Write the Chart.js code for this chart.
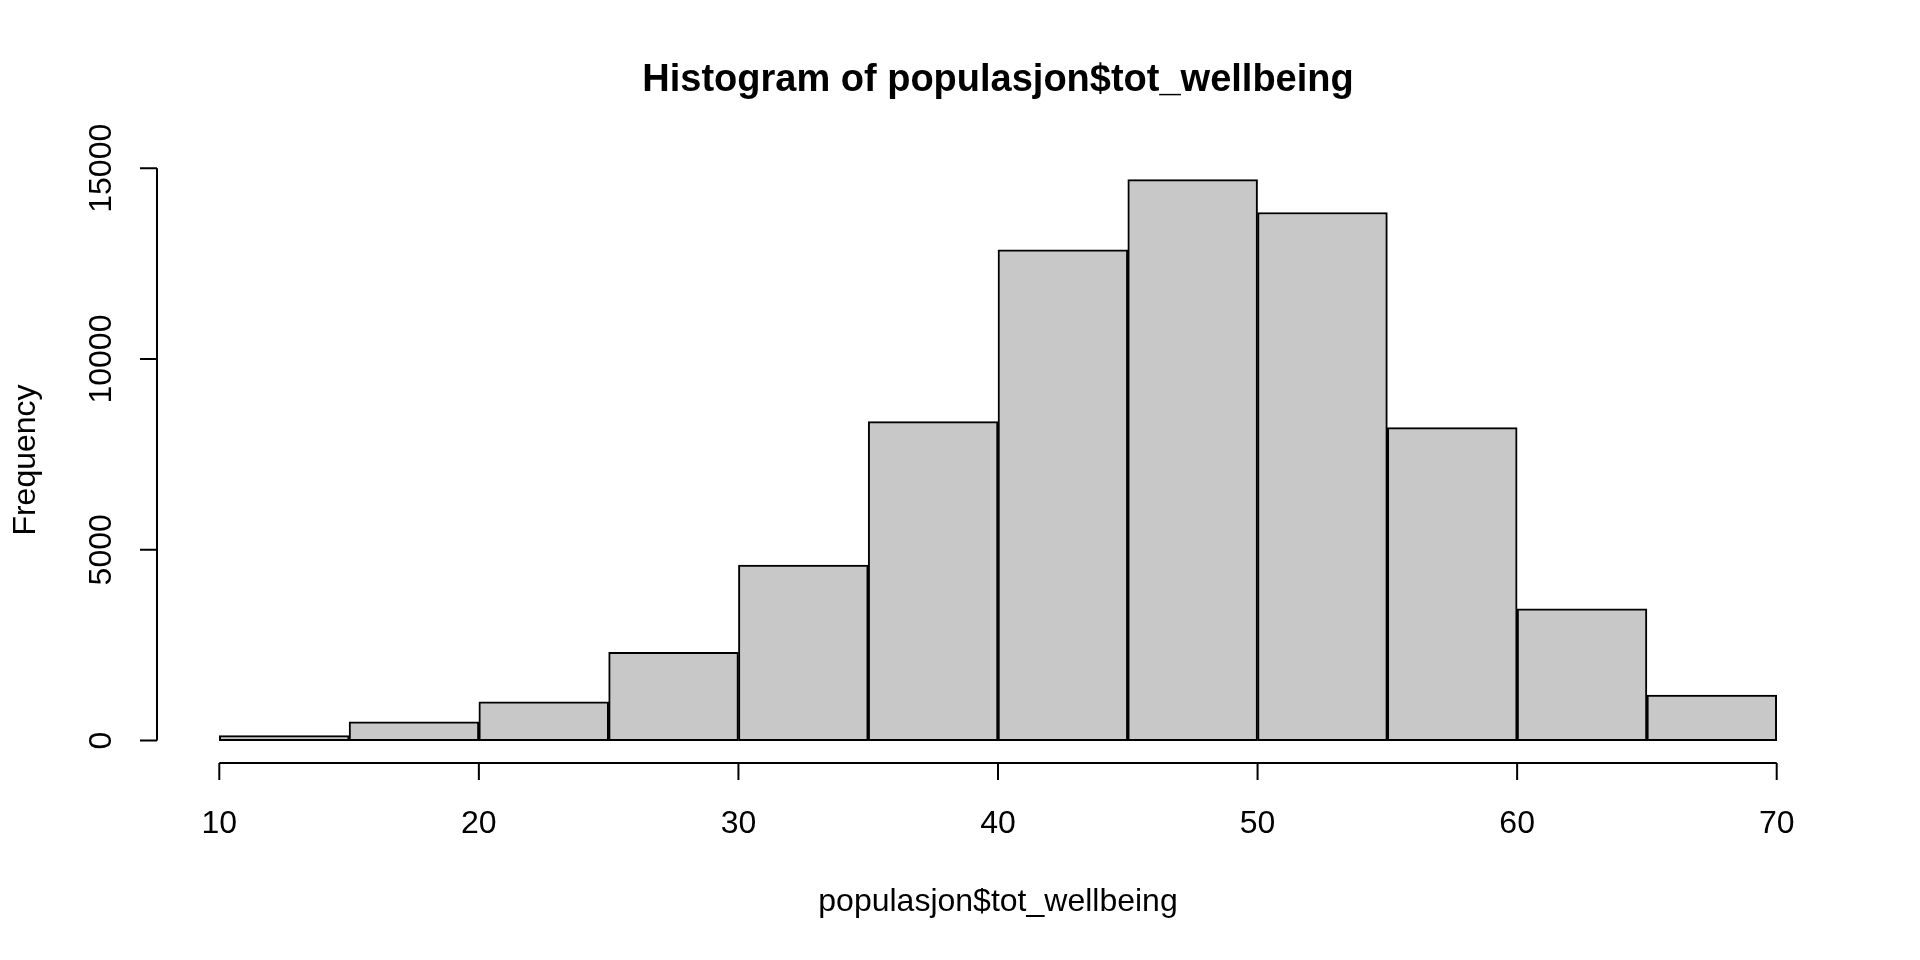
<!DOCTYPE html>
<html>
<head>
<meta charset="utf-8">
<script src="https://cdn.jsdelivr.net/npm/chart.js@4"></script>
<style>
  html, body { margin: 0; padding: 0; background: #fff; }
  #wrap { width: 1920px; height: 960px; position: relative; }
</style>
</head>
<body>
<div id="wrap"><canvas id="histChart" width="1920" height="960"></canvas></div>
<script>
// bin edges and counts
var binStarts = [10, 15, 20, 25, 30, 35, 40, 45, 50, 55, 60, 65];
var binWidth = 5;
var counts = [130, 490, 1015, 2310, 4600, 8360, 12860, 14700, 13840, 8200, 3450, 1195];
var xTicks = [10, 20, 30, 40, 50, 60, 70];
var yTicks = [0, 5000, 10000, 15000];

var titleText = 'Histogram of populasjon$tot_wellbeing';
var xTitle = 'populasjon$tot_wellbeing';
var yTitle = 'Frequency';

var FONT = '"Liberation Sans", Arial, Helvetica, sans-serif';

var histData = binStarts.map(function (s, i) {
    return { x: s + binWidth / 2, y: counts[i] };
});

// R-style axes drawn from the chart's own scales
var rAxes = {
    id: 'rAxes',
    afterDraw: function (chart) {
        var ctx = chart.ctx;
        var xs = chart.scales.x;
        var ys = chart.scales.y;
        var area = chart.chartArea;
        var tickLen = 17;

        ctx.save();
        ctx.strokeStyle = '#000';
        ctx.fillStyle = '#000';
        ctx.lineWidth = 2;

        // x axis
        var xy = area.bottom;
        var x0 = xs.getPixelForValue(xTicks[0]);
        var x1 = xs.getPixelForValue(xTicks[xTicks.length - 1]);
        ctx.beginPath();
        ctx.moveTo(x0, xy);
        ctx.lineTo(x1, xy);
        xTicks.forEach(function (t) {
            var px = xs.getPixelForValue(t);
            ctx.moveTo(px, xy);
            ctx.lineTo(px, xy + tickLen);
        });
        ctx.stroke();

        ctx.font = '32px ' + FONT;
        ctx.textAlign = 'center';
        ctx.textBaseline = 'middle';
        xTicks.forEach(function (t) {
            ctx.fillText(String(t), xs.getPixelForValue(t), 824);
        });
        ctx.fillText(xTitle, (area.left + area.right) / 2, 902);

        // y axis
        var yx = area.left;
        var y0 = ys.getPixelForValue(yTicks[0]);
        var y1 = ys.getPixelForValue(yTicks[yTicks.length - 1]);
        ctx.beginPath();
        ctx.moveTo(yx, y0);
        ctx.lineTo(yx, y1);
        yTicks.forEach(function (t) {
            var py = ys.getPixelForValue(t);
            ctx.moveTo(yx, py);
            ctx.lineTo(yx - tickLen, py);
        });
        ctx.stroke();

        yTicks.forEach(function (t) {
            ctx.save();
            ctx.translate(102, ys.getPixelForValue(t));
            ctx.rotate(-Math.PI / 2);
            ctx.fillText(String(t), 0, 0);
            ctx.restore();
        });
        ctx.save();
        ctx.translate(26, (area.top + area.bottom) / 2);
        ctx.rotate(-Math.PI / 2);
        ctx.fillText(yTitle, 0, 0);
        ctx.restore();

        // main title
        ctx.font = 'bold 38px ' + FONT;
        ctx.fillText(titleText, (area.left + area.right) / 2, 81);

        ctx.restore();
    }
};

var ctx = document.getElementById('histChart');
var histChart = new Chart(ctx, {
    type: 'bar',
    data: {
        datasets: [{
            label: 'Frequency',
            data: histData,
            backgroundColor: '#C8C8C8',
            borderColor: '#000000',
            borderWidth: 2,
            barPercentage: 1.0,
            categoryPercentage: 1.0,
            borderSkipped: false
        }]
    },
    options: {
        responsive: false,
        animation: false,
        devicePixelRatio: 1,
        layout: {
            padding: { left: 157, right: 81, top: 157, bottom: 197 }
        },
        plugins: {
            legend: { display: false },
            title: { display: false },
            tooltip: { enabled: false }
        },
        scales: {
            x: {
                type: 'linear',
                display: false,
                min: 7.6,
                max: 72.4,
                offset: false,
                // only the labelled ticks, so bar width follows the 5-unit bins
                afterBuildTicks: function (scale) {
                    scale.ticks = xTicks.map(function (v) { return { value: v }; });
                }
            },
            y: {
                type: 'linear',
                display: false,
                min: -588,
                max: 15295
            }
        }
    },
    plugins: [rAxes]
});
</script>
</body>
</html>
